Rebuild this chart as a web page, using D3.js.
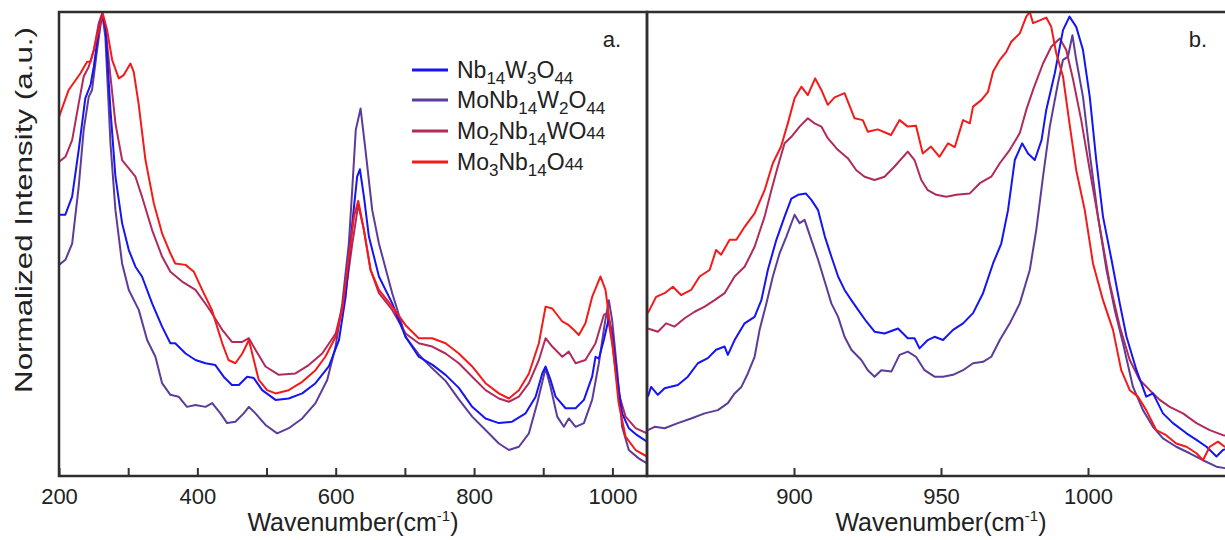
<!DOCTYPE html>
<html><head><meta charset="utf-8">
<script src="https://cdn.jsdelivr.net/npm/d3@7"></script>
<style>html,body{margin:0;padding:0;background:#fff}svg{display:block}text{font-family:"Liberation Sans",Arial,sans-serif;fill:#222}</style>
</head><body>
<svg id="chart" width="1225" height="540"></svg>
<script>
// ---------- data ----------
const seriesNames = ["Nb14W3O44","MoNb14W2O44","Mo2Nb14WO44","Mo3Nb14O44"];
const seriesColors = ["#1414f5","#5d3c99","#b02a5c","#f51a1a"];
// legend labels as segments: n = normal, s = subscript, m = small on baseline
const legendLabels = [
  [["Nb","n"],["14","s"],["W","n"],["3","s"],["O","n"],["44","s"]],
  [["MoNb","n"],["14","s"],["W","n"],["2","s"],["O","n"],["44","s"]],
  [["Mo","n"],["2","s"],["Nb","n"],["14","s"],["WO","n"],["44","m"]],
  [["Mo","n"],["3","s"],["Nb","n"],["14","s"],["O","n"],["44","m"]]
];
const ticksA = [200,300,400,500,600,700,800,900,1000];
const tickLabelsA = [200,400,600,800,1000];
const ticksB = [900,950,1000];
const tickLabelsB = [900,950,1000];
const domainA = [200,1050];
const domainB = [850,1050];
const xTitle = "Wavenumber(cm";
const yTitle = "Normalized Intensity (a.u.)";
const panelTags = ["a.","b."];

// panel a, Nb14W3O44
const wnA_blue = [200,209,219,228.5,238,245.6,250.3,257.5,262.4,267,274.4,281.6,291.2,300.9,310.5,320,334.6,349,361,368,383,397.3,411.8,426,438,450,460,472,481.6,493.7,513,532,551.6,570.8,590,604.7,614.3,624,631,635,640.8,648,662.5,681.7,701,720,739.5,758.8,778,797.3,816.6,835.9,855,874.5,889,898.6,903.4,910.6,917.8,932.3,946.8,958.8,970.7,975.6,980.4,987.6,994.8,999.6,1006.8,1014,1023.7,1035.7,1050];
const inA_blue = [.563,.563,.602,.703,.814,.843,.882,.961,.994,.968,.789,.645,.545,.487,.451,.430,.372,.322,.286,.286,.264,.250,.243,.239,.214,.196,.196,.214,.211,.185,.164,.167,.178,.200,.236,.293,.386,.545,.645,.661,.602,.516,.430,.372,.300,.257,.240,.218,.190,.149,.124,.114,.117,.135,.171,.221,.236,.207,.171,.146,.146,.164,.214,.257,.253,.293,.340,.307,.214,.135,.103,.088,.074];
// panel a, MoNb14W2O44
const wnA_purple = [200,209.3,219,228.5,235.7,243,247.8,255,262.4,267,274.4,281.6,291.2,300.9,315.3,327.4,339.4,349,361,373,385,397.3,411.8,421.4,433.4,443,455,467,474.5,484,498.5,515.4,532.2,551.6,570.8,587.7,599.8,609.5,619,624,629,636,643,652.8,662.5,681.7,701,720,739.5,758.8,778,797.3,816.6,835.9,850.3,864.8,879.3,891.3,903.4,910.6,920.2,929.8,937,946.8,958.8,970.7,980.4,989,994.8,999.6,1006.8,1014,1023.7,1038,1050];
const inA_purple = [.455,.466,.501,.624,.746,.817,.832,.918,.996,.947,.717,.573,.458,.401,.358,.293,.257,.200,.175,.171,.149,.153,.149,.157,.135,.114,.117,.135,.149,.135,.110,.092,.103,.124,.157,.207,.279,.372,.501,.620,.746,.792,.703,.573,.501,.394,.300,.262,.232,.205,.165,.128,.099,.070,.056,.063,.092,.157,.232,.192,.128,.106,.124,.106,.114,.164,.243,.329,.379,.336,.228,.106,.056,.038,.027];
// panel a, Mo2Nb14WO44
const wnA_crimson = [200,209.3,219,228.5,235.7,243,250.3,257.5,262.4,267,274.4,281.6,291.2,300.9,310.5,320,334.6,349,361,378,397.3,416.6,436,450,465,474.5,484,498.5,517.8,541.9,561,580.5,600,614.3,624,632.6,640.8,650.4,662.5,681.7,701,720,739.5,758.8,778,797.3,816.6,835.9,850.3,864.8,879.3,893.7,903.4,913,927.5,937,946.8,961,975.6,987.6,992.4,999.6,1009,1019,1033.5,1050];
const inA_crimson = [.677,.688,.724,.803,.861,.882,.918,.976,.997,.968,.861,.760,.681,.663,.645,.602,.530,.473,.440,.419,.401,.361,.315,.289,.289,.297,.272,.236,.218,.221,.239,.264,.307,.394,.501,.585,.530,.444,.394,.358,.307,.286,.279,.264,.243,.214,.185,.167,.160,.171,.200,.250,.297,.279,.257,.268,.243,.250,.286,.347,.351,.286,.178,.128,.103,.092];
// panel a, Mo3Nb14O44
const wnA_red = [200,214,231,240.6,245.6,250.3,257.5,263.3,269.5,276.8,286.4,293.6,303.3,308,315,325,337,349,361,368,383,395,407,421,436,445,455,465,474.5,481.6,488.8,500.9,513,532,551.6,570.8,585,600,609.5,619,626.5,632.6,640.8,650.4,662.5,681.7,701,720,739.5,758.8,778,797.3,816.6,835.9,850.3,864.8,879.3,893.7,903.4,913,927.5,937,944,951.5,961,970.7,982.8,990,999.6,1009,1019,1033.5,1050];
const inA_red = [.774,.832,.868,.893,.893,.918,.961,.997,.961,.897,.857,.864,.889,.871,.803,.681,.588,.523,.480,.458,.455,.440,.401,.358,.286,.250,.243,.264,.293,.250,.207,.185,.178,.185,.203,.228,.257,.300,.358,.470,.560,.593,.530,.444,.401,.365,.325,.297,.297,.286,.264,.236,.200,.178,.167,.185,.221,.286,.365,.361,.333,.325,.315,.304,.329,.386,.430,.401,.293,.157,.085,.056,.042];

// panel b, Nb14W3O44
const wnB_blue = [850.3,851.4,853.7,856,860.5,863.9,867.3,870.7,873.5,876.4,877.5,879.8,883.2,886.6,888.9,891.1,894,896.8,899.1,901.4,904,905.9,908.2,910.5,912.7,915,917.2,919.5,921.8,924.6,927.4,930.8,935.4,938.7,941,942.7,945.5,947.8,950.7,954.1,957.5,960.9,964.3,967.7,970.5,972.8,975.1,977.6,979.6,981.9,984.2,985.8,988.7,991.5,993.7,996,998.3,1000.6,1002.8,1005.1,1008,1010.8,1013.1,1016.5,1019.8,1022.1,1025.5,1028.9,1033.5,1036.9,1040.3,1043.7,1045.9,1050];
const inB_blue = [.171,.192,.175,.189,.196,.214,.243,.254,.272,.279,.261,.293,.329,.343,.379,.444,.509,.559,.598,.606,.609,.595,.573,.516,.473,.430,.401,.379,.358,.333,.311,.307,.318,.297,.297,.275,.293,.300,.293,.315,.329,.351,.394,.458,.501,.573,.681,.717,.695,.681,.724,.789,.868,.961,.990,.968,.918,.817,.681,.559,.466,.372,.300,.228,.171,.178,.135,.114,.092,.078,.063,.042,.056,.065];
// panel b, MoNb14W2O44
const wnB_purple = [850.3,852.6,856,860.5,865,869.6,874.1,877.5,879.8,882.1,884.3,886.6,888.3,890.6,892.8,895.1,897.4,900.2,901.9,903.6,905.9,908.2,911,912.7,915,917.2,919.5,922.9,925.1,927.4,929.7,933.1,935.9,938.7,941.5,944.4,947.8,950.7,954.1,957.5,960.9,964.3,967.1,970,973.4,976.8,980.2,982.4,984.7,987,989.8,991.5,993.2,994.7,996,998.3,1000.6,1003.4,1006.3,1009.1,1011.9,1015.3,1018.7,1022.1,1025.5,1030,1034.6,1039.1,1043.7,1046.5,1050];
const inB_purple = [.099,.106,.103,.114,.124,.135,.142,.157,.178,.192,.221,.257,.315,.372,.430,.480,.516,.563,.545,.552,.509,.466,.408,.372,.343,.300,.272,.250,.228,.214,.228,.225,.261,.268,.257,.228,.214,.214,.218,.228,.243,.246,.257,.293,.329,.372,.444,.530,.645,.753,.847,.897,.904,.950,.897,.817,.695,.559,.444,.358,.286,.192,.142,.106,.081,.063,.049,.034,.020,.017,.015];
// panel b, Mo2Nb14WO44
const wnB_crimson = [850.3,853.7,856.5,859.4,862.8,866.2,869.6,873,876.4,879.8,883.2,886.6,890,892.3,894.5,896.8,899.1,901.9,904.7,907,909.3,911.5,914.9,918.3,921.2,924,927.4,930.8,934.2,938.7,941,943.3,945.5,948.4,951.8,955.2,959.8,963.2,967.1,970,973.4,976.8,979,981.3,984.7,987.5,990.4,992.6,994.9,997.7,1000.6,1004,1007.4,1010.8,1014.2,1017.6,1021,1024.4,1027.8,1032.3,1036.9,1041.4,1045.9,1050];
const inB_crimson = [.318,.311,.329,.322,.340,.354,.365,.379,.394,.430,.451,.494,.559,.616,.667,.717,.731,.753,.771,.760,.753,.728,.703,.685,.659,.645,.638,.645,.667,.699,.681,.638,.616,.606,.602,.606,.609,.631,.645,.674,.703,.739,.789,.832,.889,.925,.943,.918,.855,.767,.659,.537,.415,.322,.250,.207,.185,.164,.149,.135,.114,.099,.088,.085];
// panel b, Mo3Nb14O44
const wnB_red = [850.3,853.1,856,858.8,861.6,865,867.9,871.3,873.5,875.2,878.1,880.4,883.2,886.6,890,892.8,895.6,897.9,900.2,902.5,904.7,907.2,909.3,911.5,913.8,917.2,920.6,923.4,925.1,928.5,933,935.9,938.7,941.5,943.8,946.6,949.5,952.4,954.7,957.5,959.8,960.9,963.7,966,967.7,970,972.2,973.9,976.8,979,980.2,981.3,983.6,985.8,987.5,989.2,991.5,993.7,996,998.9,1001.7,1005.1,1008.5,1011.3,1014.2,1017,1019.8,1023.2,1026.6,1030,1033.5,1036.9,1039.1,1041.4,1044.2,1046.5,1050];
const inB_red = [.351,.386,.394,.408,.390,.401,.430,.444,.487,.477,.509,.509,.537,.566,.616,.674,.710,.760,.814,.839,.821,.857,.832,.800,.816,.825,.771,.767,.742,.747,.735,.767,.753,.755,.695,.710,.688,.717,.709,.767,.760,.796,.810,.828,.871,.897,.914,.936,.954,.990,1.0,.976,.982,.988,.968,.911,.861,.760,.659,.573,.458,.379,.315,.228,.185,.171,.142,.099,.088,.070,.063,.049,.034,.063,.074,.063,.060];

// ---------- layout ----------
const L = 59, MID = 647, R = 1235, T = 12, B = 476;
const svg = d3.select("#chart");
const xA = d3.scaleLinear().domain(domainA).range([L, MID]);
const xB = d3.scaleLinear().domain(domainB).range([MID, R]);
const y = d3.scaleLinear().domain([0, 1]).range([B, T]);

const panels = [
  {x: xA, wn: [wnA_blue, wnA_purple, wnA_crimson, wnA_red], iv: [inA_blue, inA_purple, inA_crimson, inA_red], ticks: ticksA, labels: tickLabelsA, id: "clipA"},
  {x: xB, wn: [wnB_blue, wnB_purple, wnB_crimson, wnB_red], iv: [inB_blue, inB_purple, inB_crimson, inB_red], ticks: ticksB, labels: tickLabelsB, id: "clipB"}
];

const defs = svg.append("defs");
panels.forEach((p, pi) => {
  const [x0, x1] = p.x.range();
  defs.append("clipPath").attr("id", p.id).append("rect")
    .attr("x", x0).attr("y", T).attr("width", x1 - x0).attr("height", B - T);

  const g = svg.append("g").attr("clip-path", `url(#${p.id})`);
  const line = d3.line().x(d => p.x(d[0])).y(d => y(d[1]));
  [1, 2, 0, 3].forEach(si => {
    const pts = p.wn[si].map((w, i) => [w, p.iv[si][i]]);
    g.append("path").datum(pts).attr("d", line)
      .attr("fill", "none").attr("stroke", seriesColors[si])
      .attr("stroke-width", 2).attr("stroke-linejoin", "round");
  });

  // axis
  const ax = d3.axisBottom(p.x).tickValues(p.ticks).tickSize(-8).tickPadding(12)
    .tickFormat(d => p.labels.includes(d) ? d : "");
  const ag = svg.append("g").attr("transform", `translate(0,${B})`).call(ax);
  ag.select(".domain").remove();
  ag.selectAll(".tick line").attr("stroke", "#333").attr("stroke-width", 2);
  ag.selectAll(".tick text").attr("font-size", 22).attr("fill", "#222")
    .attr("font-family", '"Liberation Sans", Arial, sans-serif');

  // frame
  svg.append("rect").attr("x", x0).attr("y", T).attr("width", x1 - x0).attr("height", B - T)
    .attr("fill", "none").attr("stroke", "#2e2e2e").attr("stroke-width", 2.5);

  // x title
  const cx = (x0 + Math.min(x1, 1225 + 10)) / 2;
  const t = svg.append("text").attr("x", (x0 + x1) / 2).attr("y", 531)
    .attr("text-anchor", "middle").attr("font-size", 25);
  t.append("tspan").text(xTitle);
  t.append("tspan").attr("font-size", 15).attr("dy", -10).text("-1");
  t.append("tspan").attr("dy", 10).text(")");

  // panel tag
  svg.append("text").attr("x", pi === 0 ? 612 : 1198).attr("y", 47)
    .attr("text-anchor", "middle").attr("font-size", 22).text(panelTags[pi]);
});

// y title
svg.append("text").attr("transform", "translate(32,210) rotate(-90)")
  .attr("text-anchor", "middle").attr("font-size", 24)
  .attr("textLength", 366).attr("lengthAdjust", "spacingAndGlyphs")
  .text(yTitle);

// legend
const legY = [70, 100, 131, 162];
legendLabels.forEach((segs, i) => {
  svg.append("line").attr("x1", 412).attr("x2", 448).attr("y1", legY[i]).attr("y2", legY[i])
    .attr("stroke", seriesColors[i]).attr("stroke-width", 3);
  const t = svg.append("text").attr("x", 457).attr("y", legY[i] + 8).attr("font-size", 23);
  let shift = 0;
  segs.forEach(([s, m]) => {
    const ts = t.append("tspan").text(s);
    if (m === "s") { ts.attr("font-size", 17).attr("dy", 6 - shift); shift = 6; }
    else if (m === "m") { ts.attr("font-size", 17).attr("dy", 0 - shift); shift = 0; }
    else { ts.attr("dy", 0 - shift); shift = 0; }
  });
});
</script>
</body></html>
